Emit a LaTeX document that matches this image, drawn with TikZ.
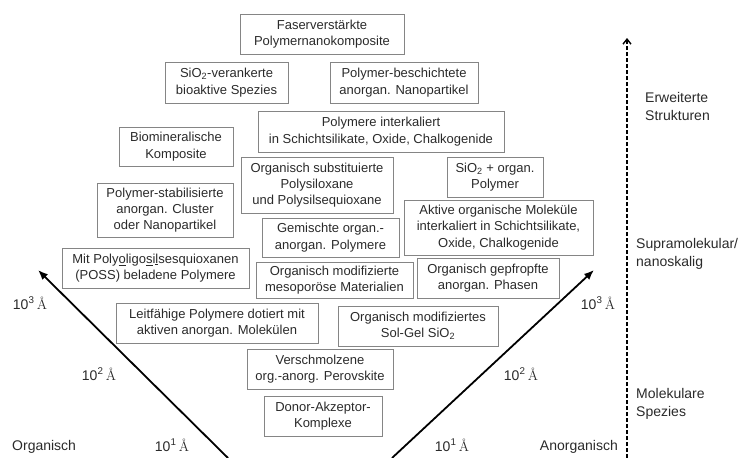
\documentclass[tikz,border=0pt]{standalone}
\usepackage{fontspec}
\setsansfont{Liberation Sans}
\usetikzlibrary{arrows.meta}
\definecolor{txt}{HTML}{2A2A2A}
\definecolor{frame}{HTML}{858585}
\tikzset{
  box/.style={draw=frame, line width=0.9pt, align=center, inner sep=0pt,
    text=txt, font=\sffamily\fontsize{13}{16.3}\selectfont},
  lab/.style={text=txt, inner sep=0pt, align=left,
    font=\sffamily\fontsize{14}{18}\selectfont},
  ang/.style={text=txt, inner sep=0pt, font=\sffamily\fontsize{14}{16}\selectfont},
  diag/.style={line width=1.8pt, -{Latex[length=10pt,width=8pt]}},
  scalearrow/.style={line width=1.4pt, dash pattern=on 4pt off 2pt,
    -{Straight Barb[length=5pt,width=8pt,line width=1.4pt]}}
}
\newcommand{\ang}[1]{10\textsuperscript{#1}\,{\rmfamily Å}}
\begin{document}
\begin{tikzpicture}[x=1pt,y=-1pt]
\useasboundingbox (0,0) rectangle (756,458);

\node[box, minimum width=164pt, minimum height=40pt] (b1) at (322,34) {Faserverstärkte\\Polymernanokomposite};
\node[box, minimum width=123pt, minimum height=41pt] (b2) at (226.5,82.5) {SiO\textsubscript{2}-verankerte\\bioaktive Spezies};
\node[box, minimum width=148pt, minimum height=41pt] (b3) at (404,82.5) {Polymer-beschichtete\\anorgan. Nanopartikel};
\node[box, minimum width=246pt, minimum height=41pt] (b4) at (381,131.5) {Polymere interkaliert\\in Schichtsilikate, Oxide, Chalkogenide};
\node[box, minimum width=114pt, minimum height=39pt] (b5) at (176,146.5) {Biomineralische\\Komposite};
\node[box, minimum width=152pt, minimum height=56pt] (b6) at (317,185) {Organisch substituierte\\Polysiloxane\\und Polysilsequioxane};
\node[box, minimum width=96pt, minimum height=40pt] (b7) at (495,177) {SiO\textsubscript{2} + organ.\\Polymer};
\node[box, minimum width=136pt, minimum height=54pt] (b8) at (165,210) {Polymer-stabilisierte\\anorgan. Cluster\\oder Nanopartikel};
\node[box, minimum width=137pt, minimum height=39pt] (b9) at (330.5,237.5) {Gemischte organ.-\\anorgan. Polymere};
\node[box, minimum width=189pt, minimum height=55pt] (b10) at (498.5,227.5) {Aktive organische Moleküle\\interkaliert in Schichtsilikate,\\Oxide, Chalkogenide};
\node[box, minimum width=187pt, minimum height=40pt] (b11) at (155.5,268) {Mit Poly\underline{o}ligo\underline{s}i\underline{l}sesquioxanen\\(POSS) beladene Polymere};
\node[box, minimum width=157pt, minimum height=36pt] (b12) at (334.5,280) {Organisch modifizierte\\mesoporöse Materialien};
\node[box, minimum width=142pt, minimum height=40pt] (b13) at (488,278) {Organisch gepfropfte\\anorgan. Phasen};
\node[box, minimum width=202pt, minimum height=40pt] (b14) at (217,323) {Leitfähige Polymere dotiert mit\\aktiven anorgan. Molekülen};
\node[box, minimum width=160pt, minimum height=40pt] (b15) at (418,326) {Organisch modifiziertes\\Sol-Gel SiO\textsubscript{2}};
\node[box, minimum width=146pt, minimum height=40pt] (b16) at (320,369) {Verschmolzene\\org.-anorg. Perovskite};
\node[box, minimum width=118pt, minimum height=40pt] (b17) at (323,416) {Donor-Akzeptor-\\Komplexe};

% diagonal axes
\coordinate (ls) at (228,458);
\coordinate (le) at (38,270);
\coordinate (rs) at (392,458);
\coordinate (re) at (594,270);
\draw[diag] (ls) -- (le);
\draw[diag] (rs) -- (re);

% vertical scale arrow
\coordinate (vs) at (627,458);
\coordinate (ve) at (627,38);
\draw[scalearrow] (vs) -- (ve);

% scale labels
\node[ang] (l3) at (30,303) {\ang{3}};
\node[ang] (l2) at (99,374) {\ang{2}};
\node[ang] (l1) at (172,445) {\ang{1}};
\node[ang] (r1) at (452,445) {\ang{1}};
\node[ang] (r2) at (521,374) {\ang{2}};
\node[ang] (r3) at (598,303) {\ang{3}};

\node[lab, anchor=west] (org) at (12,447) {Organisch};
\node[lab, anchor=east] (anorg) at (618,447) {Anorganisch};
\node[lab, anchor=west] (ext) at (645,106) {Erweiterte\\Strukturen};
\node[lab, anchor=west] (supra) at (636,254) {Supramolekular/\\nanoskalig};
\node[lab, anchor=west] (mol) at (636,403.5) {Molekulare\\Spezies};
\end{tikzpicture}
\end{document}
